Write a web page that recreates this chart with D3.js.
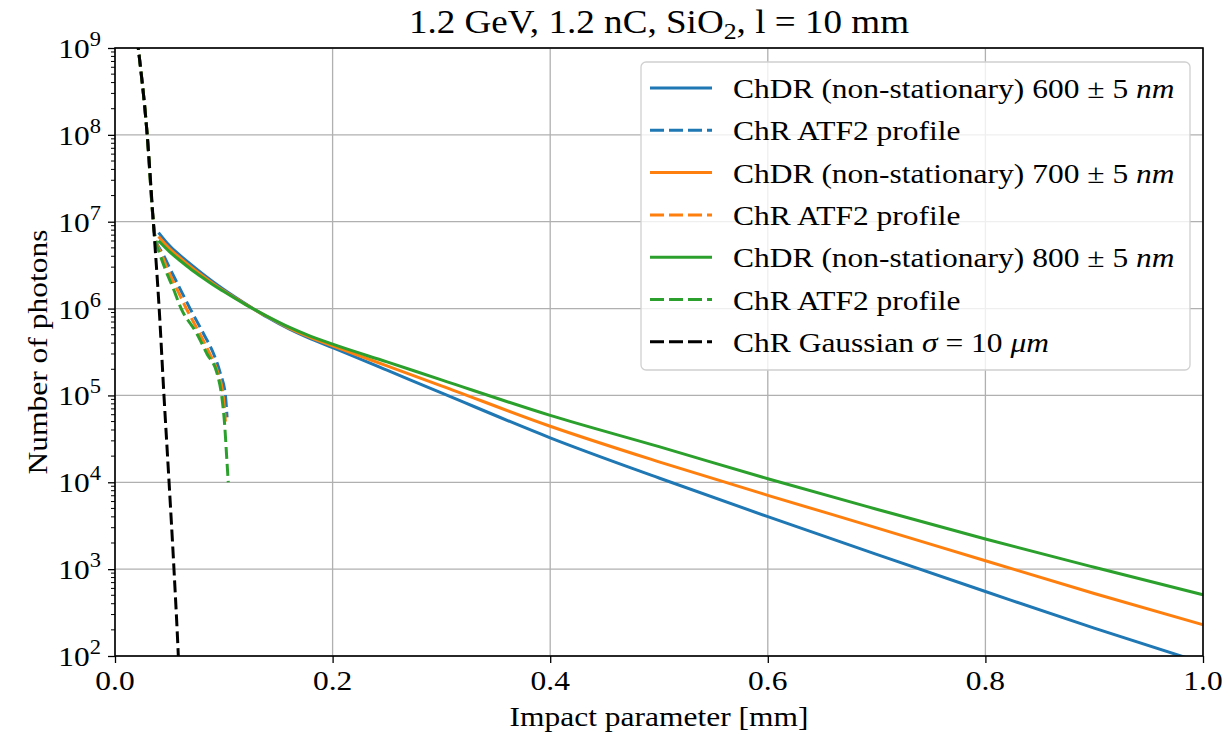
<!DOCTYPE html>
<html>
<head>
<meta charset="utf-8">
<script src="https://cdn.jsdelivr.net/npm/d3@7"></script>
<style>
  body { margin: 0; background: #fff; }
</style>
</head>
<body>
<svg id="chart" width="1232" height="734"></svg>
<script>
// values (x in mm, N = number of photons)
const chdrX = [0.04, 0.05, 0.06, 0.07, 0.08, 0.09, 0.10, 0.12, 0.14, 0.16, 0.18, 0.2,
  0.25, 0.3, 0.4, 0.5, 0.6, 0.7, 0.8, 0.9, 1.0];
const chdr600 = [7.5e6, 5.31e6, 4.07e6, 3.2e6, 2.54e6, 2.04e6, 1.66e6, 1.135e6, 7.94e5, 5.82e5, 4.47e5, 3.55e5,
  1.95e5, 1.07e5, 3.25e4, 1.12e4, 4.02e3, 1.48e3, 553, 209, 83];
const chdr700 = [6.76e6, 4.9e6, 3.8e6, 2.99e6, 2.4e6, 1.95e6, 1.6e6, 1.12e6, 8.04e5, 5.96e5, 4.62e5, 3.72e5,
  2.19e5, 1.29e5, 4.42e4, 1.72e4, 7.08e3, 2.99e3, 1.25e3, 525, 229];
const chdr800 = [6.03e6, 4.52e6, 3.55e6, 2.82e6, 2.29e6, 1.88e6, 1.57e6, 1.11e6, 8.13e5, 6.1e5, 4.79e5, 3.89e5,
  2.43e5, 1.51e5, 5.89e4, 2.57e4, 1.1e4, 4.9e3, 2.22e3, 1.05e3, 507];

const atf600X = [0.0165, 0.0214, 0.0296, 0.0352, 0.0368, 0.0444, 0.0505, 0.0597, 0.069, 0.0815, 0.0907, 0.0969, 0.1015, 0.1030];
const atf600 = [3.2e9, 1e9, 1e8, 1e7, 6.6e6, 4.17e6, 2.88e6, 1.7e6, 1.0e6, 5.1e5, 3.0e5, 1.78e5, 1.0e5, 5.6e4];
const atf700X = [0.0165, 0.0214, 0.0296, 0.0352, 0.0368, 0.0429, 0.048, 0.0567, 0.0647, 0.078, 0.0872, 0.0948, 0.0994, 0.1015];
const atf700 = [3.2e9, 1e9, 1e8, 1e7, 6.6e6, 4.17e6, 2.88e6, 1.7e6, 1.05e6, 5.1e5, 3.0e5, 1.78e5, 1.0e5, 5.0e4];
const atf800X = [0.0165, 0.0214, 0.0296, 0.0352, 0.0368, 0.0414, 0.046, 0.0536, 0.0605, 0.0754, 0.0846, 0.0939, 0.098, 0.1009, 0.1025, 0.1041];
const atf800 = [3.2e9, 1e9, 1e8, 1e7, 6.6e6, 4.17e6, 2.88e6, 1.7e6, 1.02e6, 5.1e5, 3.0e5, 1.78e5, 1.0e5, 4.4e4, 2.1e4, 1.0e4];

const gaussX = [0.0165, 0.0214, 0.0296, 0.0352, 0.0406, 0.0450, 0.0497, 0.0542, 0.0582, 0.0592];
const gaussN = [3.2e9, 1e9, 1e8, 1e7, 1e6, 1e5, 1e4, 1e3, 1e2, 5e1];

const xTicks = [0, 0.2, 0.4, 0.6, 0.8, 1.0];
const yTicks = [1e2, 1e3, 1e4, 1e5, 1e6, 1e7, 1e8, 1e9];

// ---- layout
const FONT = "Liberation Serif";
const SX = 1.125; // stretch Times-like glyphs towards Computer Modern widths
const svg = d3.select("#chart");
const padL = 115, padR = 1203, padT = 48, padB = 656;

const x = d3.scaleLinear().domain([0, 1]).range([padL, padR]);
const y = d3.scaleLog().domain([1e2, 1e9]).range([padB, padT]);

const blue = "#1f77b4", orange = "#ff7f0e", green = "#2ca02c";

function label(px, py, size, anchor, rot) {
  return svg.append("text")
    .attr("transform", `translate(${px},${py})` + (rot ? ` rotate(${rot})` : "") + ` scale(${SX},1)`)
    .attr("font-family", FONT).attr("font-size", size)
    .attr("text-anchor", anchor).attr("fill", "#000");
}

// grid
svg.append("g").selectAll("line").data(xTicks).join("line")
  .attr("x1", d => x(d)).attr("x2", d => x(d))
  .attr("y1", padT).attr("y2", padB)
  .attr("stroke", "#b0b0b0").attr("stroke-width", 1.3);
svg.append("g").selectAll("line").data(yTicks).join("line")
  .attr("x1", padL).attr("x2", padR)
  .attr("y1", d => y(d)).attr("y2", d => y(d))
  .attr("stroke", "#b0b0b0").attr("stroke-width", 1.3);

svg.append("clipPath").attr("id", "clip")
  .append("rect").attr("x", padL).attr("y", padT)
  .attr("width", padR - padL).attr("height", padB - padT);

const plot = svg.append("g").attr("clip-path", "url(#clip)");
const line = d3.line().x(d => x(d[0])).y(d => y(d[1])).curve(d3.curveMonotoneX);
const zip = (a, b) => a.map((v, i) => [v, b[i]]);

const series = [
  { pts: zip(chdrX, chdr600), color: blue, dash: null },
  { pts: zip(atf600X, atf600), color: blue, dash: "12,5" },
  { pts: zip(chdrX, chdr700), color: orange, dash: null },
  { pts: zip(atf700X, atf700), color: orange, dash: "12,5" },
  { pts: zip(chdrX, chdr800), color: green, dash: null },
  { pts: zip(atf800X, atf800), color: green, dash: "12,5" },
  { pts: zip(gaussX, gaussN), color: "#000", dash: "12,5" }
];

series.forEach(s => {
  plot.append("path")
    .attr("d", line(s.pts))
    .attr("fill", "none")
    .attr("stroke", s.color)
    .attr("stroke-width", 3)
    .attr("stroke-dasharray", s.dash);
});

// axes (ticks from d3, labels drawn below)
const gx = svg.append("g").attr("transform", `translate(0,${padB})`)
  .call(d3.axisBottom(x).tickValues(xTicks).tickSize(7).tickFormat(""));
gx.select(".domain").remove();
gx.selectAll(".tick line").attr("stroke", "#000").attr("stroke-width", 1.3);
xTicks.forEach(t => label(x(t), 690, 28, "middle").text(d3.format(".1f")(t)));

const minor = [];
for (let e = 2; e < 9; e++) for (let k = 2; k < 10; k++) minor.push(k * Math.pow(10, e));
svg.append("g").selectAll("line").data(minor).join("line")
  .attr("x1", padL - 4).attr("x2", padL)
  .attr("y1", d => y(d)).attr("y2", d => y(d))
  .attr("stroke", "#000").attr("stroke-width", 1);

const gy = svg.append("g").attr("transform", `translate(${padL},0)`)
  .call(d3.axisLeft(y).tickValues(yTicks).tickSize(7).tickFormat(""));
gy.select(".domain").remove();
gy.selectAll(".tick line").attr("stroke", "#000").attr("stroke-width", 1.3);

yTicks.forEach(t => {
  const tx = label(101, y(t) + 10, 28, "end");
  tx.append("tspan").text("10");
  tx.append("tspan").attr("dy", -12).attr("font-size", 20).text(Math.round(Math.log10(t)));
});

// frame
svg.append("rect").attr("x", padL).attr("y", padT)
  .attr("width", padR - padL).attr("height", padB - padT)
  .attr("fill", "none").attr("stroke", "#000").attr("stroke-width", 1.6);

// title
const title = label((padL + padR) / 2, 33, 33, "middle");
title.append("tspan").text("1.2 GeV, 1.2 nC, SiO");
title.append("tspan").attr("font-size", 23).attr("dy", 6).text("2");
title.append("tspan").attr("dy", -6).text(", l = 10 mm");

// axis labels
label((padL + padR) / 2, 726, 28, "middle").text("Impact parameter [mm]");
label(47, (padT + padB) / 2, 28, "middle", -90).text("Number of photons");

// legend
const legendLabels = [
  ["ChDR (non-stationary) 600", "nm"],
  ["ChR ATF2 profile"],
  ["ChDR (non-stationary) 700", "nm"],
  ["ChR ATF2 profile"],
  ["ChDR (non-stationary) 800", "nm"],
  ["ChR ATF2 profile"],
  ["ChR Gaussian", "sigma"]
];

svg.append("rect").attr("x", 641).attr("y", 62).attr("width", 549).attr("height", 308)
  .attr("rx", 5).attr("fill", "#fff").attr("fill-opacity", 0.8)
  .attr("stroke", "#d0d0d0").attr("stroke-width", 1.3);

series.forEach((s, i) => {
  const cy = 88 + i * 42.3;
  svg.append("line").attr("x1", 650).attr("x2", 712).attr("y1", cy).attr("y2", cy)
    .attr("stroke", s.color).attr("stroke-width", 3).attr("stroke-dasharray", s.dash ? "14,5" : null);
  const t = label(733, cy + 10, 28, "start");
  const lab = legendLabels[i];
  if (lab[1] === "nm") {
    t.append("tspan").text(lab[0] + " \u00b1 5 ");
    t.append("tspan").attr("font-style", "italic").text("nm");
  } else if (lab[1] === "sigma") {
    t.append("tspan").text(lab[0] + " ");
    t.append("tspan").attr("font-style", "italic").text("\u03c3");
    t.append("tspan").text(" = 10 ");
    t.append("tspan").attr("font-style", "italic").text("\u03bcm");
  } else {
    t.text(lab[0]);
  }
});
</script>
</body>
</html>
